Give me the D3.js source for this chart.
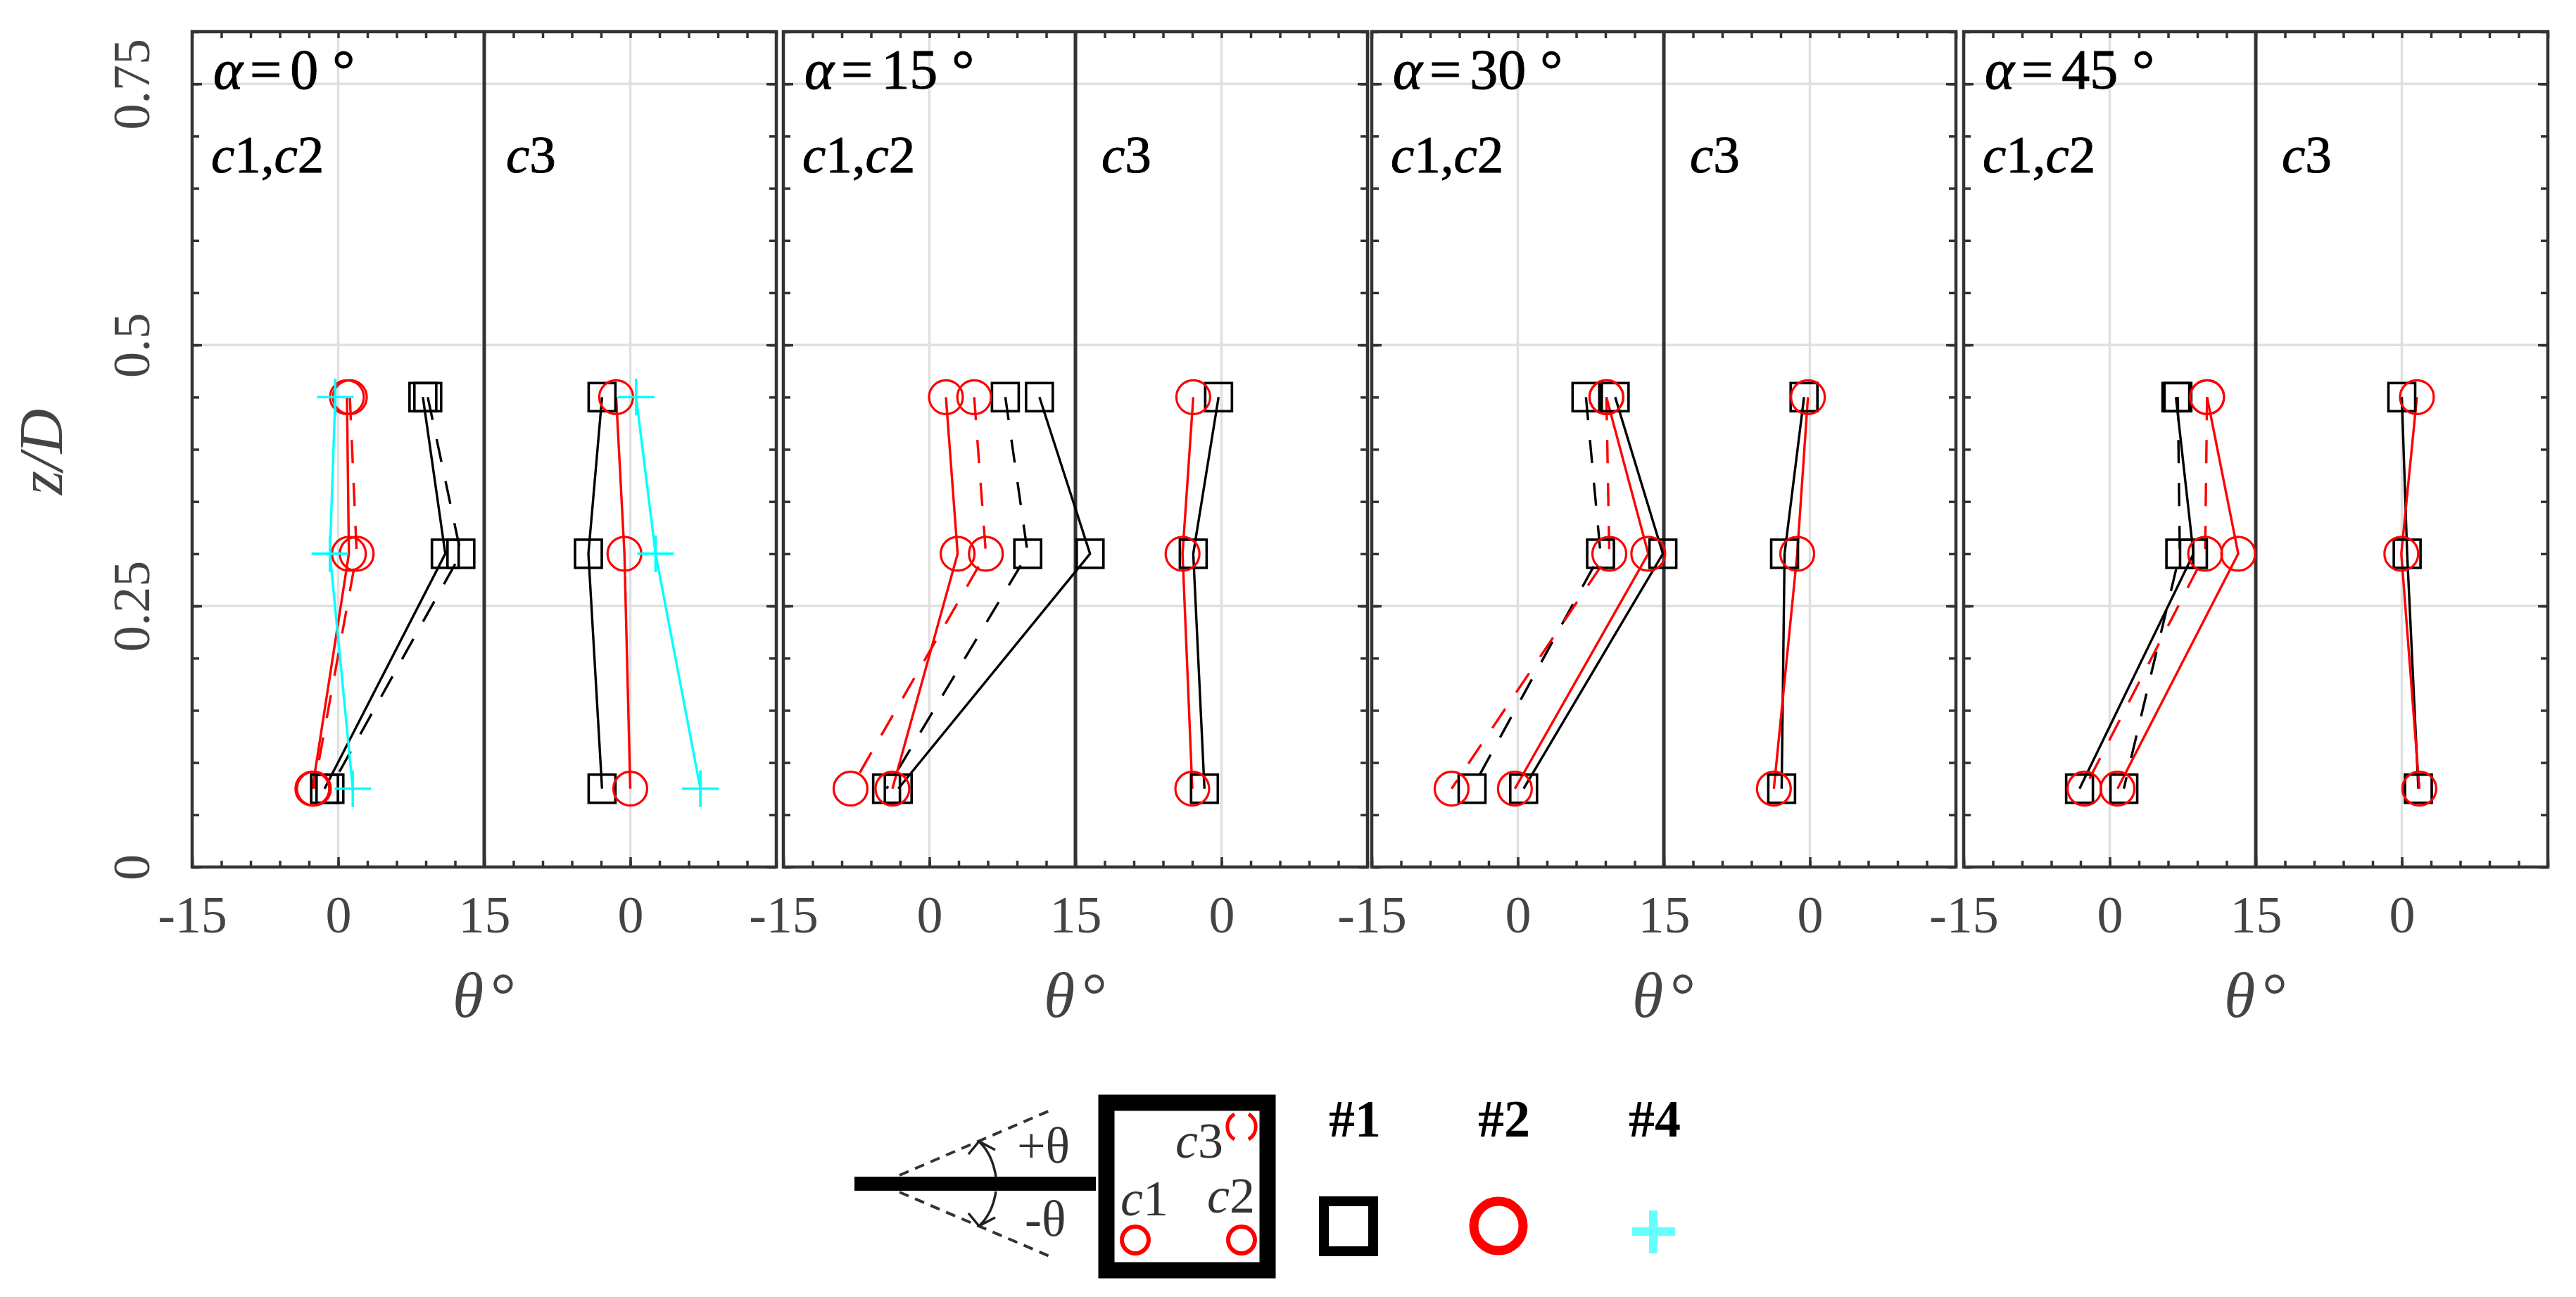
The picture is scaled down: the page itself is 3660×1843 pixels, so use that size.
<!DOCTYPE html>
<html>
<head>
<meta charset="utf-8">
<script src="https://cdn.jsdelivr.net/npm/d3@7"></script>
<style>
  html, body { margin: 0; background: #fff; }
  text { font-family: "Liberation Serif", serif; }
</style>
</head>
<body>
<div id="wrapper"></div>
<script>
// heights of the three measuring stations
const zLevels = [0.45, 0.3, 0.075];
const angles = [0, 15, 30, 45];

// one row per alpha, values in zLevels order. c1,c2 = solid + dashed, c3 = solid only
const squareSolid = [[8.7, 11.0, -1.4], [11.3, 16.5, -3.2], [10.0, 14.9, 0.6], [6.8, 8.6, -3.1]];
const squareDashed = [[9.2, 12.6, -0.85], [7.8, 10.1, -4.4], [7.0, 8.5, -4.7], [7.0, 7.2, 1.45]];
const circleSolid = [[0.9, 1.1, -2.65], [1.7, 2.9, -3.8], [9.1, 13.4, -0.3], [10.0, 13.2, 0.8]];
const circleDashed = [[1.2, 1.9, -2.5], [4.6, 5.8, -8.1], [9.1, 9.4, -6.8], [10.0, 9.8, -2.6]];
const squareC3 = [[-2.9, -4.3, -2.9], [-0.3, -2.9, -1.75], [-0.6, -2.6, -2.9], [0.0, 0.55, 1.7]];
const circleC3 = [[-1.45, -0.6, 0.0], [-2.9, -4.0, -3.0], [-0.2, -1.3, -3.7], [1.55, -0.05, 1.8]];

// #4 was only measured at alpha = 0
const plusSolid = [-0.3, -0.85, 1.5];
const plusC3 = [0.6, 2.6, 7.2];

const xMajorTicks = [-15, 0, 15, 30];
const xMinorTicks = d3.range(-15, 46, 3);
const yMajorTicks = [0, 0.25, 0.5, 0.75];
const yMinorTicks = d3.range(0, 0.801, 0.05);
const c3Zero = 30; // second half of each panel is shifted by this much
const legendNames = ["#1", "#2", "#4"];

const dimensions = {
  width: 3660,
  height: 1843,
  panelWidth: 830,
  panelLefts: [273, 1113, 1949, 2790],
  top: 45,
  bottom: 1232,
};

const svg = d3.select("#wrapper")
  .append("svg")
    .attr("width", dimensions.width)
    .attr("height", dimensions.height)
    .style("display", "block");

const xScale = d3.scaleLinear().domain([-15, 45]).range([0, dimensions.panelWidth]);
const yScale = d3.scaleLinear().domain([0, 0.8]).range([dimensions.bottom, dimensions.top]);

const lineGenerator = d3.line()
  .x(d => xScale(d.x))
  .y(d => yScale(d.z));

function toPoints(values, offset) {
  return values.map((v, i) => ({ x: v + offset, z: zLevels[i] }));
}

function styleAxis(g, labelled) {
  g.select(".domain").remove();
  g.selectAll("line").attr("stroke", "#333").attr("stroke-width", 3.5);
  if (labelled) g.selectAll("text").attr("fill", "#444").attr("font-size", 74);
}

function drawSeries(bounds, values, offset, color, dashed) {
  bounds.append("path")
    .attr("d", lineGenerator(toPoints(values, offset)))
    .attr("fill", "none")
    .attr("stroke", color)
    .attr("stroke-width", 3.4)
    .attr("stroke-dasharray", dashed ? "33 28" : null);
}

function drawSquares(bounds, values, offset) {
  bounds.selectAll(null)
    .data(toPoints(values, offset))
    .join("rect")
      .attr("x", d => xScale(d.x) - 19)
      .attr("y", d => yScale(d.z) - 20)
      .attr("width", 38)
      .attr("height", 40)
      .attr("fill", "none")
      .attr("stroke", "#000")
      .attr("stroke-width", 3.6);
}

function drawCircles(bounds, values, offset) {
  bounds.selectAll(null)
    .data(toPoints(values, offset))
    .join("circle")
      .attr("cx", d => xScale(d.x))
      .attr("cy", d => yScale(d.z))
      .attr("r", 24)
      .attr("fill", "none")
      .attr("stroke", "#f00")
      .attr("stroke-width", 3.2);
}

function drawPluses(bounds, values, offset) {
  bounds.selectAll(null)
    .data(toPoints(values, offset))
    .join("path")
      .attr("d", d => {
        const cx = xScale(d.x), cy = yScale(d.z);
        return `M${cx - 26},${cy}H${cx + 26}M${cx},${cy - 26}V${cy + 26}`;
      })
      .attr("fill", "none")
      .attr("stroke", "#0ff")
      .attr("stroke-width", 3.6);
}

angles.forEach((alpha, i) => {
  const bounds = svg.append("g")
    .attr("transform", `translate(${dimensions.panelLefts[i]}, 0)`);

  // grid first so everything sits on top of it
  bounds.selectAll(null)
    .data([0.25, 0.5, 0.75])
    .join("line")
      .attr("x1", 0).attr("x2", dimensions.panelWidth)
      .attr("y1", d => yScale(d)).attr("y2", d => yScale(d))
      .attr("stroke", "#e0e0e0").attr("stroke-width", 3.5);
  bounds.selectAll(null)
    .data([0, c3Zero])
    .join("line")
      .attr("x1", d => xScale(d)).attr("x2", d => xScale(d))
      .attr("y1", dimensions.top).attr("y2", dimensions.bottom)
      .attr("stroke", "#e0e0e0").attr("stroke-width", 3.5);

  // divider between c1,c2 and c3
  bounds.append("line")
    .attr("x1", xScale(15)).attr("x2", xScale(15))
    .attr("y1", dimensions.top).attr("y2", dimensions.bottom)
    .attr("stroke", "#333").attr("stroke-width", 5);

  // ticks point inward on all four sides
  const bottomMajor = bounds.append("g")
    .attr("transform", `translate(0, ${dimensions.bottom})`)
    .call(d3.axisBottom(xScale).tickValues(xMajorTicks)
      .tickSize(-14).tickPadding(0)
      .tickFormat(d => d === c3Zero ? "0" : d));
  styleAxis(bottomMajor, true);
  bottomMajor.selectAll("text").attr("y", 93).attr("dy", 0);
  styleAxis(bounds.append("g")
    .attr("transform", `translate(0, ${dimensions.bottom})`)
    .call(d3.axisBottom(xScale).tickValues(xMinorTicks).tickSize(-9).tickFormat("")));
  styleAxis(bounds.append("g")
    .attr("transform", `translate(0, ${dimensions.top})`)
    .call(d3.axisTop(xScale).tickValues(xMinorTicks).tickSize(-9).tickFormat("")));

  styleAxis(bounds.append("g")
    .call(d3.axisLeft(yScale).tickValues(yMinorTicks).tickSize(-10).tickFormat("")));
  styleAxis(bounds.append("g")
    .call(d3.axisLeft(yScale).tickValues(yMajorTicks).tickSize(-14).tickFormat("")));
  styleAxis(bounds.append("g")
    .attr("transform", `translate(${dimensions.panelWidth}, 0)`)
    .call(d3.axisRight(yScale).tickValues(yMinorTicks).tickSize(-10).tickFormat("")));
  styleAxis(bounds.append("g")
    .attr("transform", `translate(${dimensions.panelWidth}, 0)`)
    .call(d3.axisRight(yScale).tickValues(yMajorTicks).tickSize(-14).tickFormat("")));

  bounds.append("rect")
    .attr("y", dimensions.top)
    .attr("width", dimensions.panelWidth)
    .attr("height", dimensions.bottom - dimensions.top)
    .attr("fill", "none")
    .attr("stroke", "#333")
    .attr("stroke-width", 4.5);

  // data
  drawSeries(bounds, squareSolid[i], 0, "#000", false);
  drawSeries(bounds, squareDashed[i], 0, "#000", true);
  drawSeries(bounds, squareC3[i], c3Zero, "#000", false);
  drawSeries(bounds, circleSolid[i], 0, "#f00", false);
  drawSeries(bounds, circleDashed[i], 0, "#f00", true);
  drawSeries(bounds, circleC3[i], c3Zero, "#f00", false);
  drawSquares(bounds, squareSolid[i], 0);
  drawSquares(bounds, squareDashed[i], 0);
  drawSquares(bounds, squareC3[i], c3Zero);
  drawCircles(bounds, circleSolid[i], 0);
  drawCircles(bounds, circleDashed[i], 0);
  drawCircles(bounds, circleC3[i], c3Zero);
  if (alpha === 0) {
    drawSeries(bounds, plusSolid, 0, "#0ff", false);
    drawSeries(bounds, plusC3, c3Zero, "#0ff", false);
    drawPluses(bounds, plusSolid, 0);
    drawPluses(bounds, plusC3, c3Zero);
  }

  // panel labels
  const alphaLabel = bounds.append("text")
    .attr("x", 30).attr("y", 126)
    .attr("font-size", 80).attr("fill", "#000")
    .attr("stroke", "#000").attr("stroke-width", 1);
  alphaLabel.append("tspan").attr("font-style", "italic").text("α");
  alphaLabel.append("tspan").attr("dx", 10).text("=");
  alphaLabel.append("tspan").attr("dx", 12).text(alpha);
  alphaLabel.append("tspan").attr("dx", 20).text("°");

  const cLabel = bounds.append("text")
    .attr("x", 27).attr("y", 245)
    .attr("font-size", 75).attr("fill", "#000")
    .attr("stroke", "#000").attr("stroke-width", 1);
  cLabel.append("tspan").attr("font-style", "italic").text("c");
  cLabel.append("tspan").text("1,");
  cLabel.append("tspan").attr("font-style", "italic").text("c");
  cLabel.append("tspan").text("2");

  const c3Label = bounds.append("text")
    .attr("x", i === 0 ? 446 : 452).attr("y", 245)
    .attr("font-size", 75).attr("fill", "#000")
    .attr("stroke", "#000").attr("stroke-width", 1);
  c3Label.append("tspan").attr("font-style", "italic").text("c");
  c3Label.append("tspan").text("3");

  // x label
  const xLabel = bounds.append("text")
    .attr("x", xScale(15)).attr("y", 1445)
    .attr("text-anchor", "middle")
    .attr("font-size", 90).attr("fill", "#444");
  xLabel.append("tspan").attr("font-style", "italic").text("θ");
  xLabel.append("tspan").attr("dx", 10).text("°");
});

// y tick labels only on the first panel
const yLabels = svg.append("g")
  .attr("transform", `translate(${dimensions.panelLefts[0]}, 0)`)
  .call(d3.axisLeft(yScale).tickValues(yMajorTicks).tickSize(0).tickPadding(0).tickFormat(d => d));
yLabels.select(".domain").remove();
yLabels.selectAll("text")
  .attr("x", 0).attr("y", 0).attr("dy", 0)
  .attr("transform", "translate(-61, 0) rotate(-90)")
  .attr("text-anchor", "middle")
  .attr("font-size", 74)
  .attr("fill", "#444");

svg.append("text")
  .attr("transform", "translate(88, 642) rotate(-90)")
  .attr("text-anchor", "middle")
  .attr("font-size", 88)
  .attr("font-style", "italic")
  .attr("fill", "#444")
  .text("z/D");

// schematic of the cylinder and probe positions
const legend = svg.append("g");
legend.append("rect")
  .attr("x", 1572).attr("y", 1567).attr("width", 229).attr("height", 238)
  .attr("fill", "#fff").attr("stroke", "#000").attr("stroke-width", 23);
legend.append("rect")
  .attr("x", 1214).attr("y", 1672).attr("width", 343).attr("height", 20)
  .attr("fill", "#000");
legend.append("path")
  .attr("d", "M1278,1670L1494,1577M1278,1694L1498,1788")
  .attr("fill", "none").attr("stroke", "#333").attr("stroke-width", 4).attr("stroke-dasharray", "14 10");
legend.append("path")
  .attr("d", "M1415,1672Q1410,1640 1391,1622M1376,1640L1391,1622L1414,1634M1415,1693Q1410,1725 1391,1742M1376,1724L1391,1742L1414,1730")
  .attr("fill", "none").attr("stroke", "#222").attr("stroke-width", 3.5);

function schematicText(x, y, size, parts) {
  const t = legend.append("text").attr("x", x).attr("y", y).attr("font-size", size).attr("fill", "#333");
  parts.forEach(p => t.append("tspan").attr("font-style", p[1] ? "italic" : null).text(p[0]));
}
schematicText(1445, 1652, 72, [["+", false], ["θ", false]]);
schematicText(1456, 1756, 72, [["-", false], ["θ", false]]);
schematicText(1670, 1645, 72, [["c", true], ["3", false]]);
schematicText(1592, 1727, 72, [["c", true], ["1", false]]);
schematicText(1715, 1723, 72, [["c", true], ["2", false]]);

legend.selectAll(null)
  .data([1613, 1764])
  .join("circle")
    .attr("cx", d => d).attr("cy", 1762).attr("r", 19)
    .attr("fill", "none").attr("stroke", "#f00").attr("stroke-width", 6);
legend.append("path")
  .attr("d", "M1754,1583A21,21 0 0 0 1754,1619M1774,1583A21,21 0 0 1 1774,1619")
  .attr("fill", "none").attr("stroke", "#f00").attr("stroke-width", 5);

legend.selectAll(null)
  .data(legendNames)
  .join("text")
    .attr("x", (d, i) => [1925, 2137, 2351][i])
    .attr("y", 1615)
    .attr("text-anchor", "middle")
    .attr("font-size", 74)
    .attr("font-weight", "bold")
    .attr("fill", "#000")
    .text(d => d);
legend.append("rect")
  .attr("x", 1881).attr("y", 1707).attr("width", 70).attr("height", 71)
  .attr("fill", "none").attr("stroke", "#000").attr("stroke-width", 14);
legend.append("circle")
  .attr("cx", 2129).attr("cy", 1742).attr("r", 35)
  .attr("fill", "none").attr("stroke", "#f00").attr("stroke-width", 13);
legend.append("path")
  .attr("d", "M2319,1750H2380M2349,1720V1781")
  .attr("fill", "none").attr("stroke", "#66ffff").attr("stroke-width", 12);
</script>
</body>
</html>
